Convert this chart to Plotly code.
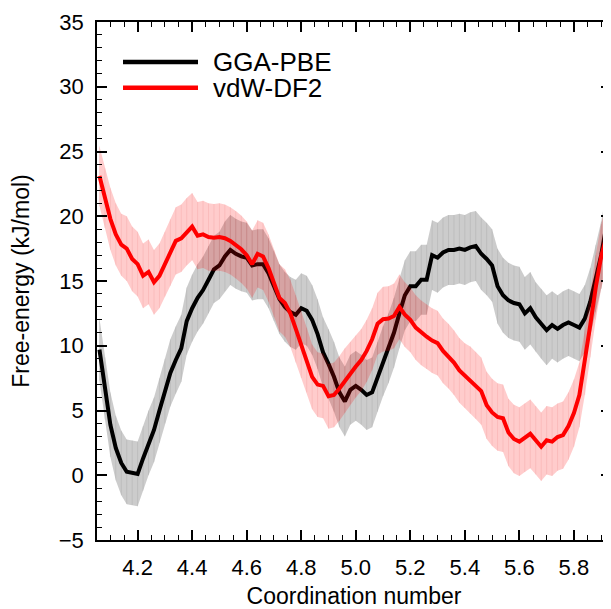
import plotly.graph_objects as go

coord = [round(4.06 + 0.02 * i, 2) for i in range(94)] + [5.935]

gga_pbe = [9.7, 6.7, 3.9, 2.1, 0.95, 0.27, 0.2, 0.1, 1.3, 2.5,
           3.5, 5.0, 6.5, 7.9, 8.9, 9.8, 11.9, 12.9, 13.7, 14.3,
           15.1, 15.9, 16.2, 16.9, 17.4, 17.1, 16.9, 16.8, 16.2, 16.3,
           16.3, 15.6, 14.6, 13.6, 13.0, 12.6, 12.4, 12.9, 12.7, 12.0,
           10.9, 9.5, 8.6, 7.6, 6.4, 5.7, 6.6, 6.9, 6.6, 6.2,
           6.4, 7.6, 8.8, 9.8, 11.0, 12.5, 13.9, 14.6, 14.6, 15.1,
           15.1, 17.0, 16.8, 17.2, 17.4, 17.4, 17.5, 17.4, 17.6, 17.7,
           17.1, 16.7, 16.2, 14.6, 13.9, 13.5, 13.3, 13.2, 12.5, 12.9,
           12.2, 11.7, 11.2, 11.6, 11.3, 11.6, 11.8, 11.6, 11.4, 12.1,
           13.4, 15.2, 17.0, 19.4, 20.5]

gga_err = [2.4, 2.4, 2.5, 2.5, 2.5, 2.5, 2.5, 2.5, 2.5, 2.5,
           2.5, 2.5, 2.5, 2.6, 2.6, 2.6, 2.6, 2.6, 2.6, 2.6,
           2.6, 2.6, 2.6, 2.7, 2.7, 2.7, 2.7, 2.7, 2.7, 2.7,
           2.7, 2.7, 2.7, 2.7, 2.7, 2.7, 2.7, 2.7, 2.7, 2.7,
           2.7, 2.7, 2.7, 2.7, 2.7, 2.7, 2.7, 2.7, 2.7, 2.7,
           2.7, 2.7, 2.7, 2.7, 2.7, 2.7, 2.7, 2.7, 2.7, 2.7,
           2.7, 2.7, 2.7, 2.7, 2.7, 2.7, 2.7, 2.7, 2.7, 2.7,
           2.8, 2.8, 2.8, 2.9, 2.9, 2.9, 2.9, 2.9, 2.8, 2.8,
           2.7, 2.7, 2.7, 2.6, 2.6, 2.6, 2.6, 2.6, 2.6, 2.6,
           2.6, 2.6, 2.6, 2.6, 2.6]

vdw_df2 = [23.1, 21.4, 19.8, 18.6, 17.8, 17.5, 16.7, 16.3, 15.4, 15.7,
           14.9, 15.4, 16.3, 17.2, 18.1, 18.3, 18.8, 19.2, 18.5, 18.6,
           18.4, 18.35, 18.4, 18.3, 18.1, 17.8, 17.45, 17.0, 16.3, 17.1,
           16.9, 16.0, 14.8, 13.7, 13.3, 12.5, 11.3, 10.1, 8.9, 7.6,
           7.0, 6.9, 6.1, 6.2, 6.7, 7.3, 7.9, 8.4, 8.9, 9.6,
           10.5, 11.7, 12.05, 12.1, 12.3, 13.0, 12.4, 12.0, 11.4, 11.0,
           10.7, 10.4, 10.2, 9.6, 9.2, 8.7, 8.1, 7.7, 7.35, 6.95,
           6.5, 5.4, 4.85, 4.5, 4.4, 3.3, 2.8, 2.6, 2.9, 3.2,
           2.7, 2.2, 2.7, 2.6, 2.95, 3.1, 3.8, 4.8, 6.2, 8.7,
           11.6, 14.5, 16.9, 18.5, 19.2]

vdw_err = [2.3, 2.3, 2.4, 2.4, 2.4, 2.5, 2.5, 2.5, 2.5, 2.5,
           2.5, 2.5, 2.5, 2.6, 2.6, 2.6, 2.6, 2.6, 2.6, 2.6,
           2.6, 2.6, 2.6, 2.6, 2.6, 2.6, 2.6, 2.6, 2.6, 2.6,
           2.6, 2.6, 2.6, 2.6, 2.6, 2.6, 2.6, 2.6, 2.5, 2.5,
           2.5, 2.5, 2.5, 2.5, 2.5, 2.5, 2.4, 2.4, 2.4, 2.4,
           2.4, 2.4, 2.5, 2.5, 2.5, 2.5, 2.5, 2.5, 2.5, 2.5,
           2.5, 2.5, 2.5, 2.5, 2.5, 2.5, 2.5, 2.5, 2.6, 2.6,
           2.6, 2.6, 2.6, 2.6, 2.6, 2.6, 2.65, 2.65, 2.65, 2.65,
           2.65, 2.65, 2.65, 2.65, 2.6, 2.6, 2.6, 2.6, 2.5, 2.5,
           2.5, 2.5, 2.5, 2.5, 2.5]

series = [
    ("GGA-PBE", gga_pbe, gga_err, "#000000", "rgba(0,0,0,0.2)", "rgba(0,0,0,0.11)"),
    ("vdW-DF2", vdw_df2, vdw_err, "#ff0000", "rgba(255,0,0,0.2)", "rgba(200,0,0,0.12)"),
]

FONT = "Liberation Sans, Arial, Helvetica, sans-serif"

fig = go.Figure()
for name, vals, err, col, band, hatch in series:
    lo = [v - e for v, e in zip(vals, err)]
    hi = [v + e for v, e in zip(vals, err)]
    fig.add_trace(go.Scatter(x=coord, y=lo, mode="lines", line=dict(width=0),
                             showlegend=False, hoverinfo="skip"))
    fig.add_trace(go.Scatter(x=coord, y=hi, mode="lines", line=dict(width=0),
                             fill="tonexty", fillcolor=band,
                             showlegend=False, hoverinfo="skip"))
    fig.add_trace(go.Scatter(x=coord, y=vals, mode="lines", name=name,
                             line=dict(color=col, width=4),
                             error_y=dict(type="data", array=err, visible=True,
                                          color=hatch, thickness=0.7, width=0),
                             showlegend=False))

# legend drawn in paper space
legend_items = [("GGA-PBE", "#000000", 0.923), ("vdW-DF2", "#ff0000", 0.873)]
for name, col, yy in legend_items:
    fig.add_shape(type="line", xref="paper", yref="paper",
                  x0=0.0506, x1=0.1965, y0=yy, y1=yy,
                  line=dict(color=col, width=4.5))
    fig.add_annotation(xref="paper", yref="paper", x=0.221, y=yy,
                       text=name, showarrow=False, xanchor="left", yanchor="middle",
                       font=dict(family=FONT, size=26, color="#000000"))

axis_common = dict(showline=True, linecolor="#000000", linewidth=1.5,
                   mirror="allticks", ticks="inside", ticklen=10, tickwidth=1.5,
                   tickcolor="#000000", showgrid=False, zeroline=False,
                   tickfont=dict(family=FONT, size=22, color="#000000"))

fig.update_xaxes(range=[4.051, 5.936], tick0=4.2, dtick=0.2, tickformat=".1f",
                 ticklabelstandoff=7,
                 minor=dict(ticks="inside", ticklen=5, tickwidth=1.3,
                            tickcolor="#000000", dtick=0.05, tick0=4.2),
                 title=dict(text="Coordination number", standoff=13,
                            font=dict(family=FONT, size=23, color="#000000")),
                 **axis_common)
fig.update_yaxes(range=[-5, 35], tick0=-5, dtick=5,
                 ticklabelstandoff=7,
                 minor=dict(ticks="inside", ticklen=5, tickwidth=1.3,
                            tickcolor="#000000", dtick=1),
                 title=dict(text="Free-energy (kJ/mol)", standoff=24,
                            font=dict(family=FONT, size=23, color="#000000")),
                 **axis_common)

# the page body adds an 8px offset, so the figure is sized to end at the window edge
fig.update_layout(width=603, height=601,
                  margin=dict(l=89, r=0, t=14, b=69, autoexpand=False),
                  plot_bgcolor="#ffffff", paper_bgcolor="#ffffff",
                  showlegend=False)

fig.write_html("out.html")
